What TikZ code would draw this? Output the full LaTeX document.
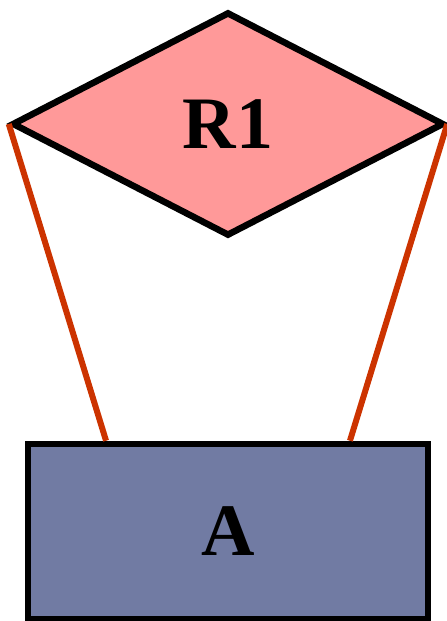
\documentclass[tikz,border=0pt]{standalone}
\usepackage{fontspec}
\setmainfont{Liberation Serif}
\usetikzlibrary{shapes.geometric,calc}
\definecolor{relfill}{HTML}{FF9999}
\definecolor{entfill}{HTML}{717BA3}
\definecolor{linkred}{HTML}{CC3300}
\tikzset{
  every node/.style={font=\fontsize{74}{80}\selectfont\bfseries},
  relation/.style={draw=black, fill=relfill, diamond, line width=6.5pt, inner sep=0pt, minimum width=432pt, minimum height=224pt},
  entity/.style={draw=black, fill=entfill, rectangle, line width=6.5pt, inner sep=0pt, minimum width=400pt, minimum height=175pt},
  link/.style={draw=linkred, line width=6pt},
}
\begin{document}
\begin{tikzpicture}[x=1pt,y=1pt]
  \useasboundingbox (0,0) rectangle (447,621);

  % relationship and entity
  \node[relation] (r1) at (228,497) {R1};
  \node[entity] (a) at (228,89.5) {A};

  % connectors
  \coordinate (aleft) at ($(a.north west)!0.2!(a.north east)$);
  \coordinate (aright) at ($(a.north west)!0.8!(a.north east)$);
  \draw[link] (r1.west) -- (aleft);
  \draw[link] (r1.east) -- (aright);
\end{tikzpicture}
\end{document}
